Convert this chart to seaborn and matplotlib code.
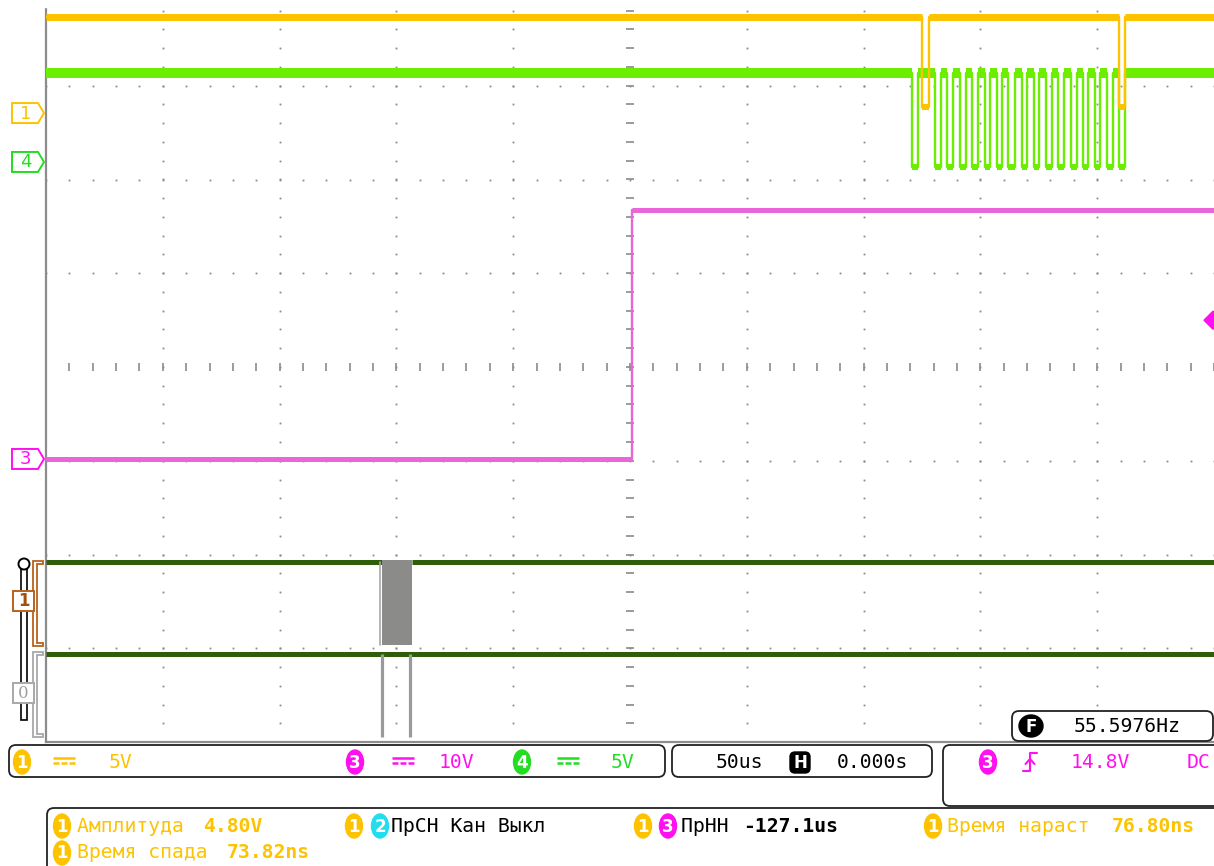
import numpy as np
import pandas as pd
import matplotlib
matplotlib.use("Agg")
import matplotlib.pyplot as plt
import seaborn as sns
from matplotlib.patches import FancyBboxPatch, Ellipse, Polygon, Rectangle, Circle

# ------------------------------------------------------------------ data
time_range_us = [-250.0, 250.0]          # 50 us/div, 10 divisions
div_range = [-4.0, 4.0]                  # 8 vertical divisions

# channel 1 (yellow) : 5 V/div
ch1_scale_v = 5.0
ch1_offset_div = 2.709
ch1_edges_us = [125.0, 128.0, 209.3, 211.9]
ch1_levels_v = [5.12, 0.32, 5.12, 0.32, 5.12]

# channel 4 (green) : 5 V/div
ch4_scale_v = 5.0
ch4_offset_div = 2.187
ch4_edges_us = [120.7, 123.3, 130.6, 133.1, 135.7, 138.3, 141.3, 143.8,
                146.4, 149.0, 152.0, 154.1, 157.1, 159.2, 161.8, 164.8,
                167.8, 170.0, 173.0, 175.1, 178.1, 180.7, 183.2, 185.8,
                188.8, 191.4, 193.9, 196.1, 199.1, 201.2, 204.2, 206.8,
                209.3, 211.9]
ch4_high_v = 4.75
ch4_low_v = -0.25

# channel 3 (magenta) : 10 V/div
ch3_scale_v = 10.0
ch3_offset_div = -0.981
ch3_edges_us = [1.0]
ch3_levels_v = [0.0, 26.6]
trigger_level_v = 14.8

# digital channels (division positions of high / low rails)
d1_rails_div = [-2.08, -2.965]
d0_rails_div = [-3.061, -3.947]
d1_busy_us = [-106.0, -93.2]
d0_glitch_us = [-106.3, -94.2]

# texts
freq_text = "55.5976Hz"
ch_scale_labels = ["5V", "10V", "5V"]
timebase_text = "50us"
hpos_text = "0.000s"
trig_text = "14.8V"
meas = {
    "amp": ("Амплитуда ", "4.80V"),
    "fall": ("Время спада ", "73.82ns"),
    "rise": ("Время нараст ", "76.80ns"),
    "delay": ("ПрНН ", "-127.1us"),
    "phase": "ПрСН Кан Выкл",
}

# colours
C_Y = "#FDC300"
C_G = "#6CEE00"
C_GT = "#22DD22"
C_M = "#E866D8"
C_MT = "#FF10F0"
C_C = "#22DDEE"
C_DG = "#2F5E0A"
C_GRID = "#8A8A8A"

# ------------------------------------------------------------------ figure
sns.set_style("white")
plt.rcParams["font.family"] = ["DejaVu Sans Mono", "DejaVu Sans"]
W, H = 1214, 866
fig = plt.figure(figsize=(W / 100, H / 100), dpi=100)
fig.patch.set_facecolor("white")

AX_L, AX_R, AX_T, AX_B = 46, 1214, -8, 742
ax = fig.add_axes([AX_L / W, (H - AX_B) / H, (AX_R - AX_L) / W, (AX_B - AX_T) / H])
ax.set_xlim(*time_range_us)
ax.set_ylim(*div_range)
ax.set_facecolor("white")
for s in ["top", "right"]:
    ax.spines[s].set_visible(False)
for s in ["left", "bottom"]:
    ax.spines[s].set_color("#8C8C8C")
    ax.spines[s].set_linewidth(1.6)
ax.set_xticks(np.arange(-250, 251, 50))
ax.set_xticks(np.arange(-250, 251, 10), minor=True)
ax.set_yticks(np.arange(-4, 4.01, 1))
ax.set_yticks(np.arange(-4, 4.01, 0.2), minor=True)
ax.tick_params(which="both", direction="in", color="#8C8C8C", labelbottom=False,
               labelleft=False, width=1.2)
ax.tick_params(which="major", length=6)
ax.tick_params(which="minor", length=4)

# grid dots
minor_y = np.arange(-4, 4.01, 0.2)
minor_x = np.arange(-250, 251, 10)
for xc in np.arange(-200, 201, 50):
    if xc == 0:
        ax.plot(np.zeros_like(minor_y), minor_y, ls="none", marker="_", ms=6,
                mew=1.2, color=C_GRID, zorder=1)
    else:
        ax.plot(np.full_like(minor_y, xc), minor_y, ls="none", marker="s",
                ms=1.3, mew=0, color=C_GRID, zorder=1)
for yc in np.arange(-3, 3.01, 1):
    if yc == 0:
        ax.plot(minor_x, np.zeros_like(minor_x, dtype=float), ls="none", marker="|",
                ms=6, mew=1.2, color=C_GRID, zorder=1)
    else:
        ax.plot(minor_x, np.full_like(minor_x, yc, dtype=float), ls="none",
                marker="s", ms=1.3, mew=0, color=C_GRID, zorder=1)


def to_div(v, scale, off):
    return np.asarray(v, dtype=float) / scale + off


def step_frame(edges, levels):
    xs, ys = [time_range_us[0]], [levels[0]]
    for e, a, b in zip(edges, levels[:-1], levels[1:]):
        xs += [e, e]
        ys += [a, b]
    xs.append(time_range_us[1])
    ys.append(levels[-1])
    return pd.DataFrame({"t": xs, "v": ys})


def draw_channel(edges, levels, scale, off, color, band_px_hi, band_px_lo, z):
    df = step_frame(edges, levels)
    df["y"] = to_div(df["v"], scale, off)
    sns.lineplot(data=df, x="t", y="y", sort=False, estimator=None, color=color,
                 lw=1.7, ax=ax, zorder=z)
    bounds = [time_range_us[0]] + list(edges) + [time_range_us[1]]
    hi = max(levels)
    for t0, t1, lv in zip(bounds[:-1], bounds[1:], levels):
        bw = band_px_hi if lv == hi else band_px_lo
        yv = to_div(lv, scale, off)
        ax.plot([t0, t1], [yv, yv], color=color, lw=bw * 0.72,
                solid_capstyle="butt", zorder=z)


ch4_levels_v = [ch4_high_v if i % 2 == 0 else ch4_low_v for i in range(len(ch4_edges_us) + 1)]
draw_channel(ch4_edges_us, ch4_levels_v, ch4_scale_v, ch4_offset_div, C_G, 10, 6, 3)
draw_channel(ch1_edges_us, ch1_levels_v, ch1_scale_v, ch1_offset_div, C_Y, 7, 6, 4)
draw_channel(ch3_edges_us, ch3_levels_v, ch3_scale_v, ch3_offset_div, C_M, 5, 5, 3)

# digital channels
ax.plot([time_range_us[0], d1_busy_us[0]], [d1_rails_div[0]] * 2, color=C_DG, lw=3.6,
        solid_capstyle="butt", zorder=3)
ax.plot([d1_busy_us[1], time_range_us[1]], [d1_rails_div[0]] * 2, color=C_DG, lw=3.6,
        solid_capstyle="butt", zorder=3)
ax.fill_between(d1_busy_us, d1_rails_div[1], d1_rails_div[0] + 0.02, color="#8B8C89",
                lw=0, zorder=3)
ax.plot([d1_busy_us[0] - 0.9] * 2, d1_rails_div, color="#A8A8A8", lw=1.2, zorder=3)
ax.plot(list(time_range_us), [d0_rails_div[0]] * 2, color=C_DG, lw=3.6,
        solid_capstyle="butt", zorder=3)
ax.vlines(d0_glitch_us, d0_rails_div[1], d0_rails_div[0], color="#9A9A9A", lw=2.3, zorder=4)

# ------------------------------------------------------------------ overlay UI (pixel coords)
ui = fig.add_axes([0, 0, 1, 1], zorder=5)
ui.set_xlim(0, W)
ui.set_ylim(H, 0)
ui.axis("off")
ui.patch.set_alpha(0)

ui.add_patch(Rectangle((0, 0), W, 7, color="white", zorder=0))


def div_to_px(d):
    return AX_B - (d - div_range[0]) * (AX_B - AX_T) / (div_range[1] - div_range[0])


def tag(y, label, color):
    pts = [(12, y - 10), (38, y - 10), (44, y), (38, y + 10), (12, y + 10)]
    ui.add_patch(Polygon(pts, closed=True, fc="white", ec=color, lw=1.4))
    ui.text(25.5, y + 0.5, label, color=color, ha="center", va="center", fontsize=13,
            family=["DejaVu Sans"])


tag(div_to_px(ch1_offset_div), "1", C_Y)
tag(div_to_px(ch4_offset_div), "4", C_GT)
tag(div_to_px(ch3_offset_div), "3", C_MT)

# trigger level marker on right edge
ty = div_to_px(ch3_offset_div + trigger_level_v / ch3_scale_v)
ui.add_patch(Polygon([(1204, ty), (1213, ty - 9), (1222, ty), (1213, ty + 9)],
                     closed=True, color=C_MT))

# digital slider
ui.add_patch(Rectangle((21, 569), 6, 151, fc="white", ec="black", lw=1.2))
ui.add_patch(Circle((24, 564), 5.5, fc="white", ec="black", lw=1.4))


def bracket(y0, y1, color):
    pts = [(43, y0), (33, y0), (33, y1), (43, y1), (43, y1 - 3), (37, y1 - 3),
           (37, y0 + 3), (43, y0 + 3)]
    ui.add_patch(Polygon(pts, closed=True, fc="white", ec=color, lw=1.3))


bracket(561, 646, "#B8621B")
bracket(652, 737, "#A8A8A8")
ui.add_patch(Rectangle((13, 591), 21, 20, fc="white", ec="#B8621B", lw=1.4))
ui.text(23.5, 601.5, "1", color="#A0520F", ha="center", va="center", fontsize=12,
        weight="bold", family=["DejaVu Sans"])
ui.add_patch(Rectangle((13, 683), 21, 20, fc="white", ec="#A8A8A8", lw=1.4))
ui.text(23.5, 693.5, "0", color="#A0A0A0", ha="center", va="center", fontsize=12,
        family=["DejaVu Serif"])

FS = 14.2


def rbox(x0, y0, x1, y1):
    ui.add_patch(FancyBboxPatch((x0, y0), x1 - x0, y1 - y0,
                                boxstyle="round,pad=0,rounding_size=7",
                                fc="white", ec="#222222", lw=1.3))


def badge(x, y, num, color, tcol="white"):
    ui.add_patch(Ellipse((x, y), 17, 24, color=color))
    ui.text(x, y + 0.5, num, color=tcol, ha="center", va="center", fontsize=12,
            weight="bold", family=["DejaVu Sans"])


def dc_icon(x, y, color):
    ui.plot([x, x + 22], [y - 3, y - 3], color=color, lw=1.8, solid_capstyle="butt")
    for k in range(3):
        ui.plot([x + k * 8, x + k * 8 + 6], [y + 2, y + 2], color=color, lw=1.8,
                solid_capstyle="butt")


def txt(x, y, s, color="black", bold=False):
    ui.text(x, y, s, color=color, ha="left", va="center", fontsize=FS,
            weight="bold" if bold else "normal")


# frequency box
rbox(1012, 711, 1213, 741)
ui.add_patch(Ellipse((1031, 726), 24, 22, color="black"))
ui.text(1031, 726.5, "F", color="white", ha="center", va="center", fontsize=12,
        weight="bold", family=["DejaVu Sans"])
txt(1074, 726, freq_text)

# channel scale bar
rbox(9, 745, 665, 777)
badge(22, 762, "1", C_Y)
dc_icon(53, 761, C_Y)
txt(109, 762, ch_scale_labels[0], C_Y)
badge(355, 762, "3", C_MT)
dc_icon(392, 761, C_MT)
txt(439, 762, ch_scale_labels[1], C_MT)
badge(522, 762, "4", C_GT)
dc_icon(557, 761, C_GT)
txt(611, 762, ch_scale_labels[2], C_GT)

# timebase box
rbox(672, 745, 932, 777)
txt(716, 762, timebase_text)
ui.add_patch(FancyBboxPatch((790, 752), 20, 21, boxstyle="round,pad=0,rounding_size=5",
                            color="black"))
ui.text(800, 762.5, "H", color="white", ha="center", va="center", fontsize=12,
        weight="bold", family=["DejaVu Sans"])
txt(837, 762, hpos_text)

# trigger box
rbox(943, 745, 1240, 806)
badge(988, 762, "3", C_MT)
ui.plot([1023, 1030, 1030, 1037], [771, 771, 753, 753], color=C_MT, lw=1.5)
ui.plot([1025.5, 1030, 1034.5], [764, 759, 764], color=C_MT, lw=1.5)
txt(1071, 762, trig_text, C_MT)
txt(1187, 762, "DC", C_MT)

# measurement box
rbox(47, 808, 1240, 880)
badge(62, 826, "1", C_Y)
txt(77, 826, meas["amp"][0], C_Y)
txt(203, 826, meas["amp"][1], C_Y, bold=True)
badge(354, 826, "1", C_Y)
badge(380, 826, "2", C_C)
txt(391, 826, meas["phase"])
badge(643, 826, "1", C_Y)
badge(668, 826, "3", C_MT)
txt(681, 826, meas["delay"][0])
txt(743, 826, meas["delay"][1], bold=True)
badge(933, 826, "1", C_Y)
txt(947, 826, meas["rise"][0], C_Y)
txt(1112, 826, meas["rise"][1], C_Y, bold=True)
badge(62, 853, "1", C_Y)
txt(77, 853, meas["fall"][0], C_Y)
txt(227, 853, meas["fall"][1], C_Y, bold=True)

fig.savefig("out.png", dpi=100, facecolor="white")
